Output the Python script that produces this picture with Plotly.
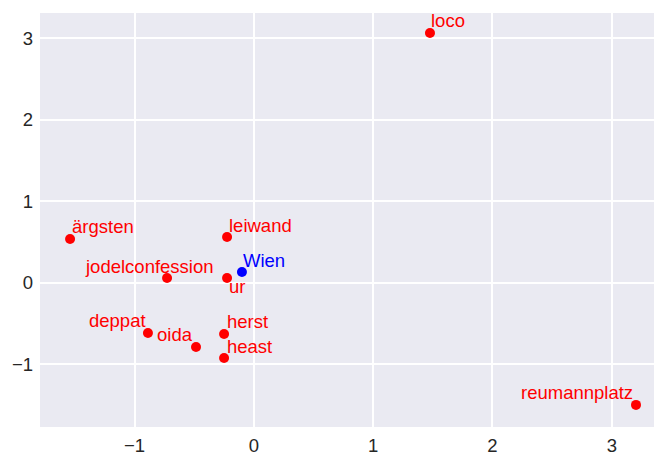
import plotly.graph_objects as go

words = ["loco", "ärgsten", "leiwand", "jodelconfession", "ur", "Wien",
         "deppat", "oida", "herst", "heast", "reumannplatz"]
x_vals = [1.476, -1.541, -0.225, -0.728, -0.225, -0.100,
          -0.888, -0.485, -0.250, -0.250, 3.203]
y_vals = [3.064, 0.536, 0.561, 0.058, 0.058, 0.131,
          -0.617, -0.789, -0.629, -0.924, -1.500]
colors = ["red", "red", "red", "red", "red", "blue",
          "red", "red", "red", "red", "red"]
# label placement (anchor side, pixel offsets) like adjustText output
label_anchor = ["left", "left", "left", "right", "left", "left",
                "right", "right", "left", "left", "right"]
label_dx = [-1, 0, 0, 49, 0, -1, 0, -1, 1, 1, -1]
label_dy = [12, 12.5, 11.5, 11.5, -8.5, 11.5, 12.5, 12.5, 12.5, 11.5, 12.5]

x_ticks = [-1, 0, 1, 2, 3]
y_ticks = [-1, 0, 1, 2, 3]

FONT = "Liberation Sans, Arial, sans-serif"

fig = go.Figure()
fig.add_trace(go.Scatter(
    x=x_vals, y=y_vals, mode="markers",
    marker=dict(color=colors, size=10, line=dict(width=0)),
    hoverinfo="skip", showlegend=False,
))

for w, xv, yv, c, anc, dx, dy in zip(words, x_vals, y_vals, colors,
                                     label_anchor, label_dx, label_dy):
    fig.add_annotation(
        x=xv, y=yv, xref="x", yref="y", text=w, showarrow=False,
        xanchor=anc, yanchor="middle", xshift=dx, yshift=dy,
        font=dict(family=FONT, size=18.5, color=c),
    )

fig.update_layout(
    width=654, height=456,
    margin=dict(l=40, r=0, t=13, b=29, autoexpand=False),
    paper_bgcolor="white",
    plot_bgcolor="#EAEAF2",
    font=dict(family=FONT, size=18.5, color="#262626"),
    xaxis=dict(range=[-1.793, 3.354], tickvals=x_ticks, showgrid=True,
               gridcolor="white", gridwidth=1.5, zeroline=False,
               showline=False, ticks="", ticklabelstandoff=5,
               automargin=False),
    yaxis=dict(range=[-1.771, 3.309], tickvals=y_ticks, showgrid=True,
               gridcolor="white", gridwidth=1.5, zeroline=False,
               showline=False, ticks="", ticklabelstandoff=6,
               automargin=False),
)

fig.write_html(
    "out.html",
    config={"displayModeBar": False},
    post_script="document.body.style.margin='0';document.body.style.padding='0';",
)
